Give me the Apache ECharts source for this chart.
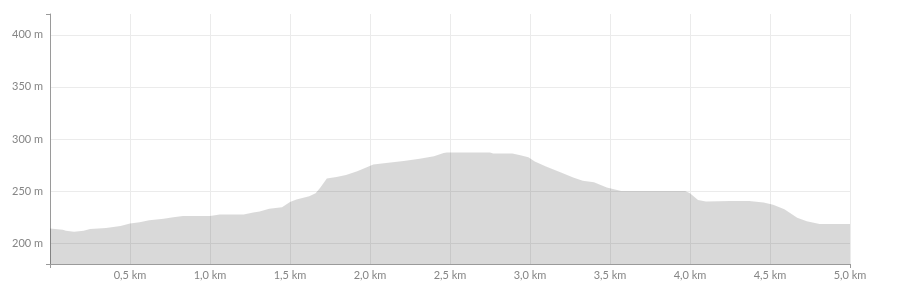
<!DOCTYPE html>
<html>
<head>
<meta charset="utf-8">
<script src="https://cdn.jsdelivr.net/npm/echarts@6/dist/echarts.min.js"></script>
<style>
html,body{margin:0;padding:0;background:#fff;}
#c{width:901px;height:293px;}
</style>
</head>
<body>
<div id="c"></div>
<script>
const distanceKm = [0, 0.08, 0.10, 0.15, 0.21, 0.25, 0.35, 0.44, 0.50, 0.56, 0.62, 0.71, 0.77, 0.83, 1.00, 1.06, 1.21, 1.27, 1.31, 1.37, 1.45, 1.50, 1.54, 1.62, 1.66, 1.69, 1.73, 1.79, 1.85, 1.92, 1.98, 2.02, 2.10, 2.21, 2.31, 2.40, 2.46, 2.48, 2.75, 2.77, 2.89, 2.94, 2.99, 3.03, 3.10, 3.19, 3.27, 3.33, 3.40, 3.48, 3.57, 3.97, 4.00, 4.05, 4.10, 4.25, 4.37, 4.46, 4.52, 4.59, 4.67, 4.73, 4.81, 5.00];
const elevationM = [214, 213, 212, 211, 212, 213.5, 214.5, 216.5, 219, 220, 222, 223.5, 225, 226, 226, 227.5, 227.5, 229.5, 230.5, 233, 234.5, 239.5, 242, 245, 248, 253.5, 262, 263.5, 265.5, 269, 273, 275.5, 277, 279, 281, 283.5, 286.5, 287, 287, 286, 286, 284.5, 282.5, 278.5, 273.5, 268, 263, 260, 258.5, 253.5, 250, 250, 248, 241.5, 240, 240.5, 240.5, 239, 237, 232.5, 224.5, 221, 218.5, 218.5];
const yLabelValues = [200, 250, 300, 350, 400];
const yEndTicks = [180, 420];
const xEndTicks = [0, 5];

const data = distanceKm.map((d, i) => [d, elevationM[i]]);
const font = 'Lato, "DejaVu Sans", sans-serif';
const chart = echarts.init(document.getElementById('c'), null, {renderer: 'canvas'});
chart.setOption({
  animation: false,
  grid: {left: 50, right: 51, top: 14, bottom: 29, containLabel: false},
  xAxis: [{
    type: 'value', min: 0, max: 5, interval: 0.5,
    axisLine: {show: true, lineStyle: {color: '#9a9a9a', width: 1}},
    axisTick: {show: false},
    axisLabel: {
      color: '#858585', fontSize: 11, fontFamily: font, margin: 6,
      showMinLabel: false,
      formatter: v => v === 0 ? '' : v.toFixed(1).replace('.', ',') + ' km'
    },
    splitLine: {show: true, lineStyle: {color: '#ebebeb', width: 1}}
  }, {
    type: 'value', min: 0, max: 5, position: 'bottom', offset: 0,
    axisLine: {show: false},
    axisLabel: {show: false},
    splitLine: {show: false},
    axisTick: {show: true, customValues: xEndTicks, length: 4, lineStyle: {color: '#9a9a9a'}}
  }],
  yAxis: [{
    type: 'value', min: 180, max: 420,
    axisLine: {show: true, lineStyle: {color: '#9a9a9a', width: 1}},
    axisTick: {show: false, customValues: yLabelValues},
    axisLabel: {
      color: '#858585', fontSize: 11, fontFamily: font, margin: 7,
      customValues: yLabelValues,
      formatter: v => v + ' m'
    },
    splitLine: {show: true, lineStyle: {color: '#ebebeb', width: 1}}
  }, {
    type: 'value', min: 180, max: 420, position: 'left', offset: 0,
    axisLine: {show: false},
    axisLabel: {show: false},
    splitLine: {show: false},
    axisTick: {show: true, customValues: yEndTicks, length: 4, lineStyle: {color: '#9a9a9a'}}
  }],
  series: [{
    type: 'line',
    xAxisIndex: 0, yAxisIndex: 0,
    data: data,
    showSymbol: false,
    lineStyle: {width: 0},
    areaStyle: {color: 'rgba(0,0,0,0.15)', opacity: 1},
    silent: true
  }]
});
</script>
</body>
</html>
